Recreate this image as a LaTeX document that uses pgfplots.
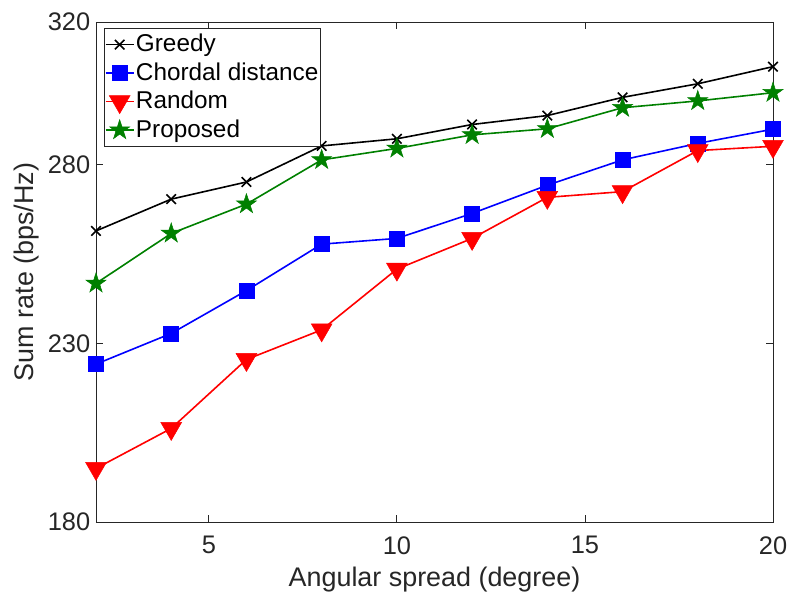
\documentclass[border=0pt]{standalone}
\usepackage{fontspec}
\setmainfont{Liberation Sans}
\usepackage{pgfplots}
\pgfplotsset{compat=1.18}
\definecolor{txt}{gray}{0.15}
\definecolor{mgreen}{RGB}{0,128,0}

% filled five-pointed star, like MATLAB's pentagram
\pgfdeclareplotmark{fstar}{%
  \pgfpathmoveto{\pgfpointpolar{90}{\pgfplotmarksize}}%
  \pgfpathlineto{\pgfpointpolar{126}{0.382\pgfplotmarksize}}%
  \pgfpathlineto{\pgfpointpolar{162}{\pgfplotmarksize}}%
  \pgfpathlineto{\pgfpointpolar{198}{0.382\pgfplotmarksize}}%
  \pgfpathlineto{\pgfpointpolar{234}{\pgfplotmarksize}}%
  \pgfpathlineto{\pgfpointpolar{270}{0.382\pgfplotmarksize}}%
  \pgfpathlineto{\pgfpointpolar{306}{\pgfplotmarksize}}%
  \pgfpathlineto{\pgfpointpolar{342}{0.382\pgfplotmarksize}}%
  \pgfpathlineto{\pgfpointpolar{18}{\pgfplotmarksize}}%
  \pgfpathlineto{\pgfpointpolar{54}{0.382\pgfplotmarksize}}%
  \pgfpathclose
  \pgfusepathqfillstroke
}

\begin{document}
\begin{tikzpicture}
\useasboundingbox (-96bp,-77bp) rectangle (692bp,522bp);
\begin{axis}[
  at={(0,0)}, anchor=south west,
  scale only axis, width=677bp, height=500bp,
  xmin=2, xmax=20, ymin=180, ymax=320,
  xtick={5,10,15,20}, ytick={180,230,280,320},
  tick align=inside, major tick length=7bp,
  axis line style={txt, line width=0.8bp},
  tick style={txt, line width=0.8bp},
  clip=false,
  /pgf/number format/assume math mode=true,
  ticklabel style={font=\fontsize{25.5}{28}\selectfont, text=txt},
  xticklabel style={yshift=-11bp},
  yticklabel style={xshift=-2.3bp},
  label style={font=\fontsize{27}{31}\selectfont, text=txt},
  xlabel={Angular spread (degree)},
  ylabel={Sum rate (bps/Hz)},
  xlabel style={at={(axis description cs:0.5,-0.116)}, anchor=center},
  ylabel style={at={(axis description cs:-0.102,0.5)}, anchor=center},
  every axis plot/.append style={line width=1.6bp},
  legend cell align=left,
  legend style={at={(axis description cs:0.0118,0.988)}, anchor=north west,
    draw=txt, line width=0.8bp, fill=white,
    font=\fontsize{24.4}{28}\selectfont, text=black,
    inner xsep=0.5bp, inner ysep=2bp, row sep=0bp,
    nodes={inner xsep=1.5bp, inner ysep=0bp, text height=21.5bp, text depth=7bp}},
  legend image code/.code={
    \draw[mark repeat=2, mark phase=2]
      plot coordinates {(0bp,0bp) (14bp,0bp) (28bp,0bp)};
  },
]
\addplot[black, mark=x, mark size=6.7bp] coordinates {
  (2,261.5) (4,270.4) (6,275.2) (8,285.3) (10,287.3)
  (12,291.3) (14,293.8) (16,298.9) (18,302.7) (20,307.5)};
\addlegendentry{Greedy}
\addplot[blue, mark=square*, mark size=7.5bp,
  mark options={solid, fill=blue, line width=0.5bp}] coordinates {
  (2,224.2) (4,232.8) (6,244.8) (8,257.8) (10,259.4)
  (12,266.4) (14,274.3) (16,281.4) (18,286.0) (20,290.0)};
\addlegendentry{Chordal distance}
\addplot[red, mark=triangle*, mark size=12bp,
  mark options={solid, fill=red, rotate=180, line width=0.5bp}] coordinates {
  (2,195.0) (4,206.2) (6,225.5) (8,233.8) (10,250.8)
  (12,259.4) (14,270.9) (16,272.5) (18,284.0) (20,285.2)};
\addlegendentry{Random}
\addplot[mgreen, mark=fstar, mark size=10.5bp,
  mark options={solid, fill=mgreen, line width=0.5bp}] coordinates {
  (2,246.8) (4,260.8) (6,269.0) (8,281.4) (10,284.6)
  (12,288.4) (14,290.1) (16,296.0) (18,297.9) (20,300.2)};
\addlegendentry{Proposed}
\end{axis}
\end{tikzpicture}
\end{document}
